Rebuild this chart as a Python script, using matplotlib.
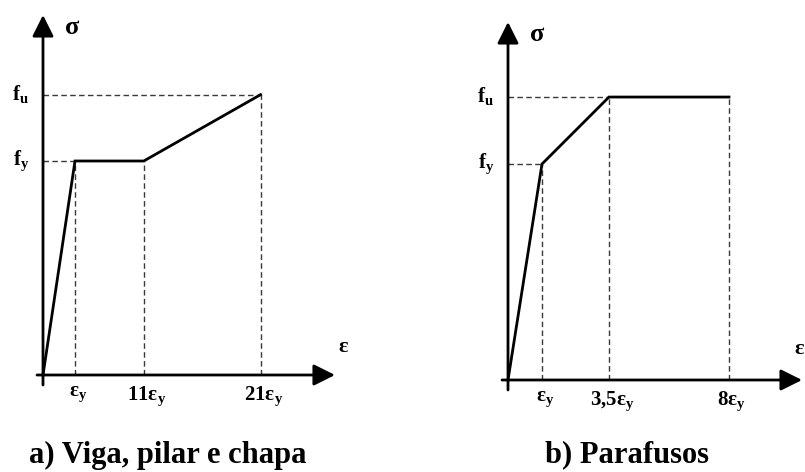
import matplotlib
matplotlib.use("Agg")
import matplotlib.pyplot as plt

plt.rcParams["font.family"] = ["Liberation Serif", "DejaVu Serif"]
plt.rcParams["mathtext.fontset"] = "custom"
plt.rcParams["mathtext.rm"] = "Liberation Serif"
plt.rcParams["mathtext.bf"] = "Liberation Serif:bold"

# Normalised stress levels (fy = 1)
fy = 1.0
fu = 1.31

# a) Viga, pilar e chapa -- schematic strain positions of the key points
a_title = "a) Viga, pilar e chapa"
a_eps_labels = ["ε$_\\mathbf{y}$", "11ε$_\\mathbf{y}$", "21ε$_\\mathbf{y}$"]
a_eps_pos = [1.0, 3.15, 6.8]
a_curve_x = [0.0, 1.0, 3.15, 6.8]
a_curve_y = [0.0, fy, fy, fu]

# b) Parafusos
b_title = "b) Parafusos"
b_eps_labels = ["ε$_\\mathbf{y}$", "3,5ε$_\\mathbf{y}$", "8ε$_\\mathbf{y}$"]
b_eps_pos = [1.0, 2.97, 6.5]
b_curve_x = [0.0, 1.0, 2.97, 6.5]
b_curve_y = [0.0, fy, fu, fu]

W, H = 805, 472
fig = plt.figure(figsize=(W / 100, H / 100), dpi=100)

DASH = dict(color="#3a3a3a", lw=1.0, linestyle=(0, (4.0, 2.4)), clip_on=False)
AX_LW = 2.0
LBL = dict(fontsize=15, fontweight="bold")


def panel(rect, xlim, ylim, x_tip, y_tip, curve_x, curve_y, eps_pos, eps_labels,
          hdash, x_ext, y_ext, eps_name_offset):
    ax = fig.add_axes(rect)
    ax.set_xlim(*xlim)
    ax.set_ylim(*ylim)
    ax.axis("off")

    # coordinate axes with arrowheads
    arrow = dict(arrowstyle="-|>,head_length=1.3,head_width=0.65", lw=AX_LW,
                 color="black", shrinkA=0, shrinkB=0, mutation_scale=10)
    ax.annotate("", xy=(x_tip, 0), xytext=(x_ext, 0), arrowprops=arrow,
                annotation_clip=False)
    ax.annotate("", xy=(0, y_tip), xytext=(0, y_ext), arrowprops=arrow,
                annotation_clip=False)

    # dashed reference lines
    for (x_end, level) in hdash:
        ax.plot([0, x_end], [level, level], **DASH)
    for xp, yp in zip(curve_x[1:], curve_y[1:]):
        ax.plot([xp, xp], [0, yp], **DASH)

    # stress-strain curve
    ax.plot(curve_x, curve_y, color="black", lw=2.0, solid_joinstyle="miter",
            clip_on=False)

    # strain tick labels
    for xp, lab in zip(eps_pos, eps_labels):
        ax.annotate(lab, xy=(xp, 0), xytext=(2, -7), textcoords="offset points",
                    ha="center", va="top", **LBL)

    # stress labels
    ax.annotate("f$_\\mathbf{u}$", xy=(0, fu), xytext=(-10, 0),
                textcoords="offset points", ha="right", va="center", **LBL)
    ax.annotate("f$_\\mathbf{y}$", xy=(0, fy), xytext=(-10, 0),
                textcoords="offset points", ha="right", va="center", **LBL)

    # axis names
    ax.annotate("σ", xy=(0, y_tip), xytext=(21, -9),
                textcoords="offset points", ha="center", va="center",
                fontsize=19, fontweight="bold")
    ax.annotate("ε", xy=(x_tip, 0), xytext=eps_name_offset,
                textcoords="offset points", ha="center", va="center",
                fontsize=16, fontweight="bold")
    return ax


# left panel: origin at (43, 375) px, 32 px per strain unit, 214 px per fy
ox, oy, ux, uy = 43, 375, 32.0, 214.0
panel([0, 0, 400 / W, 1],
      ((0 - ox) / ux, (400 - ox) / ux), ((oy - H) / uy, oy / uy),
      (335 - ox) / ux, (oy - 15) / uy,
      a_curve_x, a_curve_y, a_eps_pos, a_eps_labels,
      hdash=[(a_curve_x[1], fy), (a_curve_x[3], fu)],
      x_ext=-6 / ux, y_ext=-10 / uy, eps_name_offset=(6, 20))

# right panel: origin at (508, 380) px, 34 px per strain unit, 216 px per fy
ox2, oy2, ux2, uy2 = 108, 380, 34.0, 216.0
panel([400 / W, 0, 405 / W, 1],
      ((0 - ox2) / ux2, (405 - ox2) / ux2), ((oy2 - H) / uy2, oy2 / uy2),
      (402 - ox2) / ux2, (oy2 - 22) / uy2,
      b_curve_x, b_curve_y, b_eps_pos, b_eps_labels,
      hdash=[(b_curve_x[1], fy), (b_curve_x[2], fu)],
      x_ext=-6 / ux2, y_ext=-10 / uy2, eps_name_offset=(-2, 22))

fig.text(168 / W, 1 - 455 / H, a_title, ha="center", va="center",
         fontsize=22, fontweight="bold")
fig.text(627 / W, 1 - 455 / H, b_title, ha="center", va="center",
         fontsize=22, fontweight="bold")

fig.savefig("out.png", dpi=100, facecolor="white")
